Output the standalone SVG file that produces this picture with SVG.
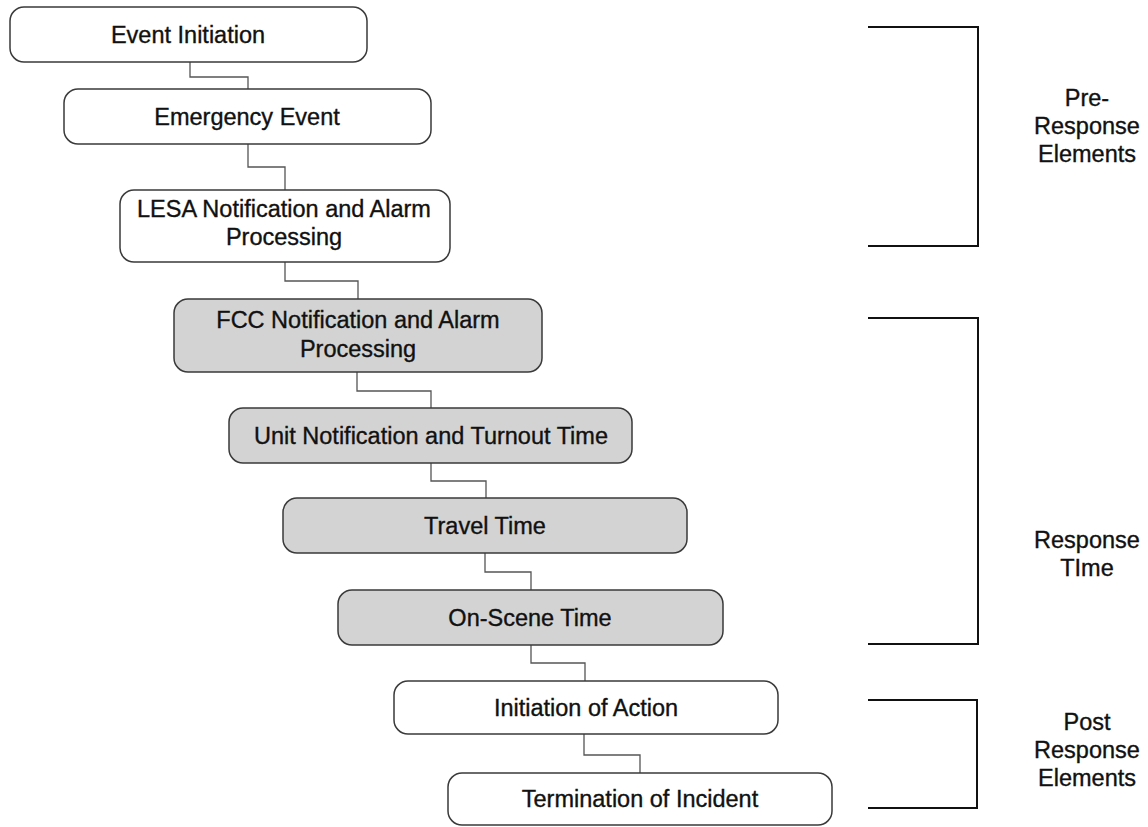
<svg xmlns="http://www.w3.org/2000/svg" width="1148" height="827" viewBox="0 0 1148 827">
<style>
.box{fill:#ffffff;stroke:#3a3a3a;stroke-width:1.5}
.gray{fill:#d3d3d3;stroke:#3a3a3a;stroke-width:1.5}
.t{font-family:"Liberation Sans",Arial,sans-serif;font-size:23.5px;fill:#111;stroke:#111;stroke-width:0.35;text-anchor:middle}
.conn{fill:none;stroke:#555;stroke-width:1.3}
.br{fill:none;stroke:#111;stroke-width:2}
</style>
<rect width="1148" height="827" fill="#ffffff"/>
<g id="connectors">
<polyline class="conn" points="190,62 190,77 248,77 248,89"/>
<polyline class="conn" points="248,144 248,167 285,167 285,190"/>
<polyline class="conn" points="285,262 285,281 358,281 358,299"/>
<polyline class="conn" points="357,372 357,391 431,391 431,408"/>
<polyline class="conn" points="431,463 431,481 486,481 486,498"/>
<polyline class="conn" points="485,553 485,572 531,572 531,590"/>
<polyline class="conn" points="531,645 531,663 585,663 585,681"/>
<polyline class="conn" points="584,734 584,755 640,755 640,773"/>
</g>
<g id="n1"><rect class="box" x="10" y="7" width="357" height="55" rx="14"/><text class="t" x="188" y="43">Event Initiation</text></g>
<g id="n2"><rect class="box" x="64" y="89" width="367" height="55" rx="14"/><text class="t" x="247" y="125">Emergency Event</text></g>
<g id="n3"><rect class="box" x="120" y="190" width="330" height="72" rx="14"/><text class="t" x="284" y="217">LESA Notification and Alarm</text><text class="t" x="284" y="245">Processing</text></g>
<g id="n4"><rect class="gray" x="174" y="299" width="368" height="73" rx="14"/><text class="t" x="358" y="328">FCC Notification and Alarm</text><text class="t" x="358" y="357">Processing</text></g>
<g id="n5"><rect class="gray" x="229" y="408" width="403" height="55" rx="14"/><text class="t" x="431" y="444">Unit Notification and Turnout Time</text></g>
<g id="n6"><rect class="gray" x="283" y="498" width="404" height="55" rx="14"/><text class="t" x="485" y="534">Travel Time</text></g>
<g id="n7"><rect class="gray" x="338" y="590" width="385" height="55" rx="14"/><text class="t" x="530" y="626">On-Scene Time</text></g>
<g id="n8"><rect class="box" x="394" y="681" width="384" height="53" rx="14"/><text class="t" x="586" y="716">Initiation of Action</text></g>
<g id="n9"><rect class="box" x="448" y="773" width="384" height="52" rx="14"/><text class="t" x="640" y="807">Termination of Incident</text></g>
<g id="brackets">
<polyline class="br" points="868,27 978,27 978,246 868,246"/>
<polyline class="br" points="868,318 978,318 978,644 868,644"/>
<polyline class="br" points="868,700 977,700 977,808 868,808"/>
</g>
<g id="labels">
<text class="t" x="1087" y="106">Pre-</text>
<text class="t" x="1087" y="134">Response</text>
<text class="t" x="1087" y="162">Elements</text>
<text class="t" x="1087" y="548">Response</text>
<text class="t" x="1087" y="576">TIme</text>
<text class="t" x="1087" y="730">Post</text>
<text class="t" x="1087" y="758">Response</text>
<text class="t" x="1087" y="786">Elements</text>
</g>
</svg>
